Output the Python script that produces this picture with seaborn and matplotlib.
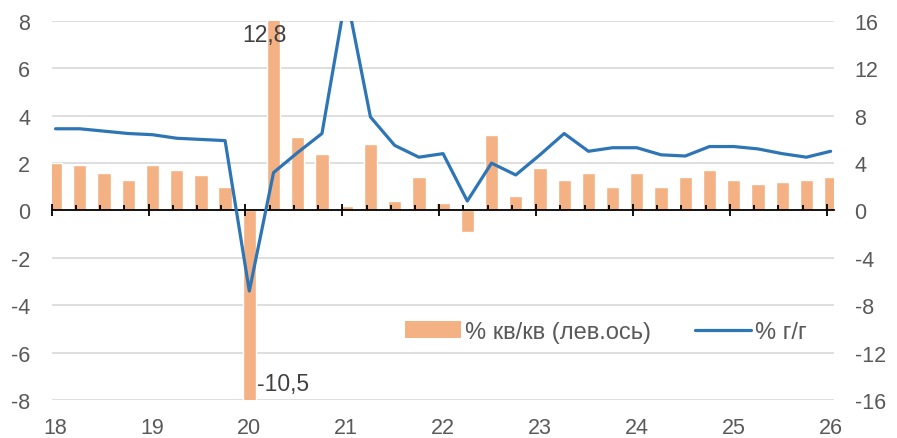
import numpy as np
import pandas as pd
import matplotlib
matplotlib.use("Agg")
import matplotlib.pyplot as plt
import seaborn as sns
from matplotlib.patches import Patch
from matplotlib.lines import Line2D
from matplotlib.transforms import offset_copy

# quarterly data, 2018 Q1 .. 2026 Q1
qq = [2.0, 1.9, 1.6, 1.3,
      1.9, 1.7, 1.5, 1.0,
      -10.5, 12.8, 3.1, 2.4,
      0.2, 2.8, 0.4, 1.4,
      0.3, -0.9, 3.2, 0.6,
      1.8, 1.3, 1.6, 1.0,
      1.6, 1.0, 1.4, 1.7,
      1.3, 1.1, 1.2, 1.3,
      1.4]
yy = [6.9, 6.9, 6.7, 6.5,
      6.4, 6.1, 6.0, 5.9,
      -6.8, 3.2, 4.9, 6.5,
      18.3, 7.9, 5.5, 4.5,
      4.8, 0.8, 4.0, 3.0,
      4.7, 6.5, 5.0, 5.3,
      5.3, 4.7, 4.6, 5.4,
      5.4, 5.2, 4.8, 4.5,
      5.0]
year_labels = ["18", "19", "20", "21", "22", "23", "24", "25", "26"]
first_year = 18
label_qq = "% кв/кв (лев.ось)"
label_yy = "% г/г"

BAR = "#F4B183"
LINE = "#2E75B6"
GRID = "#D9D9D9"
TXT = "#595959"

sns.set_theme(style="white")
plt.rcParams['font.family'] = ['Liberation Sans', 'DejaVu Sans']
plt.rcParams['axes.unicode_minus'] = False
FS = 15.5

shift = 0.04
x = [first_year + i * 0.25 + shift for i in range(len(qq))]
df = pd.DataFrame({"x": x, "qq": qq, "yy": yy})
years = [first_year + i for i in range(len(year_labels))]

fig = plt.figure(figsize=(8.97, 4.39), dpi=100)
ax = fig.add_axes([0.0576, 0.0866, 0.9303 - 0.0576, 0.9499 - 0.0866])

yticks_left = np.arange(-8, 9, 2)
# light gridlines below the bars
for yv in yticks_left:
    if yv != 0:
        ax.axhline(yv, color=GRID, lw=1.2, zorder=0)

sns.barplot(data=df, x="x", y="qq", native_scale=True, width=0.55,
            color=BAR, saturation=1, errorbar=None, ax=ax, zorder=1)

ax.set_axisbelow(False)
ax.set_xlim(first_year, first_year + 8.08)
ax.set_ylim(-8, 8)
ax.set_yticks(yticks_left)
ax.grid(False)
for s in ["top", "right", "left"]:
    ax.spines[s].set_visible(False)
ax.spines["bottom"].set_position(("data", 0))
ax.spines["bottom"].set_color("black")
ax.spines["bottom"].set_linewidth(1.3)
ax.set_xticks(years)
ax.set_xticks(np.arange(first_year, first_year + 8.01, 0.25), minor=True)
ax.tick_params(axis="x", which="major", direction="inout", length=9, width=1.3,
               color="black", labelbottom=False, bottom=True)
ax.tick_params(axis="x", which="minor", direction="in", length=3.8, width=1.3,
               color="black", bottom=True)
ax.tick_params(axis="y", length=0, pad=15.5, labelsize=FS, labelcolor=TXT)
ax.set_xlabel("")
ax.set_ylabel("")

# year labels at the bottom edge
sec = ax.secondary_xaxis(0.0)
sec.set_xticks([y + shift for y in years], year_labels)
sec.tick_params(length=0, pad=12, labelsize=FS, labelcolor=TXT)
sec.spines["bottom"].set_visible(False)

# line on right axis
ax2 = ax.twinx()
sns.lineplot(data=df, x="x", y="yy", color=LINE, lw=2.3, ax=ax2)
ax2.set_ylim(-16, 16)
ax2.set_yticks(np.arange(-16, 17, 4))
for s in ax2.spines.values():
    s.set_visible(False)
ax2.tick_params(axis="y", length=0, pad=14.5, labelsize=FS, labelcolor=TXT)
ax2.set_ylabel("")
ax2.set_xlabel("")
ax2.grid(False)
ax.set_xlim(first_year, first_year + 8.08)

# value labels for the clipped bars
i_max = int(np.argmax(qq))
i_min = int(np.argmin(qq))
fmt = lambda v: f"{v:.1f}".replace(".", ",")
ax.text(x[i_max], 8, fmt(qq[i_max]), ha="center", va="top", fontsize=16.5,
        color="#404040",
        transform=offset_copy(ax.transData, fig=fig, x=-9, y=-2, units="dots"))
ax.text(x[i_min] + 0.07, -8, fmt(qq[i_min]), ha="left", va="bottom", fontsize=16.5,
        color="#404040",
        transform=offset_copy(ax.transData, fig=fig, x=1, y=5, units="dots"))

handles = [Patch(facecolor=BAR, edgecolor="none"),
           Line2D([], [], color=LINE, lw=2.3)]
fig.legend(handles, [label_qq, label_yy], loc="center left",
           bbox_to_anchor=(405 / 897, 1 - 333 / 439), ncol=2, frameon=False,
           fontsize=17, handlelength=2.37, handleheight=0.72, handletextpad=0.15,
           columnspacing=1.9, borderpad=0, borderaxespad=0, labelcolor=TXT)

fig.savefig("out.png", dpi=100)
